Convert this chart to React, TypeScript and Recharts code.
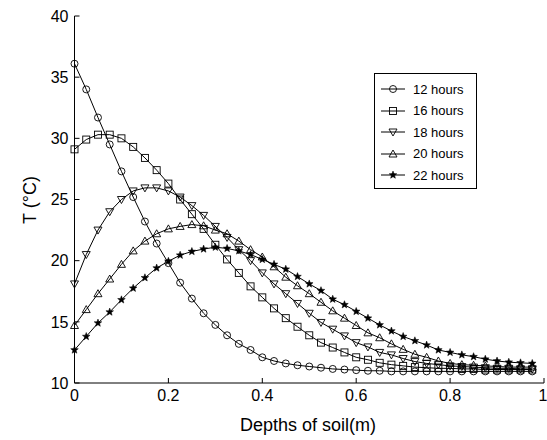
import { LineChart, Line, XAxis, YAxis } from 'recharts'

const depths = [
  0, 0.025, 0.05, 0.075, 0.1, 0.125, 0.15, 0.175, 0.2, 0.225,
  0.25, 0.275, 0.3, 0.325, 0.35, 0.375, 0.4, 0.425, 0.45, 0.475,
  0.5, 0.525, 0.55, 0.575, 0.6, 0.625, 0.65, 0.675, 0.7, 0.725,
  0.75, 0.775, 0.8, 0.825, 0.85, 0.875, 0.9, 0.925, 0.95, 0.975,
]

const h12 = [
  36.1, 34.0, 31.7, 29.5, 27.3, 25.2, 23.2, 21.4, 19.8, 18.2,
  16.9, 15.7, 14.75, 13.9, 13.2, 12.7, 12.1, 11.8, 11.6, 11.45,
  11.35, 11.25, 11.15, 11.1, 11.05, 11.0, 11.0, 10.95, 10.95, 10.95,
  10.95, 10.95, 10.95, 10.95, 10.95, 10.95, 10.95, 10.95, 10.95, 10.95,
]
const h16 = [
  29.1, 29.9, 30.3, 30.3, 30.0, 29.3, 28.4, 27.4, 26.3, 25.0,
  23.8, 22.6, 21.3, 20.1, 19.0, 17.9, 17.0, 16.1, 15.3, 14.6,
  13.9, 13.3, 12.9, 12.5, 12.1, 11.9, 11.65, 11.5, 11.4, 11.3,
  11.25, 11.2, 11.2, 11.15, 11.15, 11.1, 11.1, 11.1, 11.1, 11.1,
]
const h18 = [
  18.1, 20.5, 22.5, 24.0, 25.0, 25.7, 25.95, 25.95, 25.7, 25.2,
  24.5, 23.7, 22.8, 21.9, 20.9, 20.0, 19.0, 18.1, 17.3, 16.5,
  15.7, 14.95, 14.4, 13.85, 13.3, 12.95, 12.5, 12.3, 12.0, 11.75,
  11.6, 11.5, 11.4, 11.35, 11.3, 11.25, 11.2, 11.2, 11.15, 11.15,
]
const h20 = [
  14.7, 16.0, 17.3, 18.5, 19.7, 20.8, 21.6, 22.2, 22.6, 22.8,
  22.95, 22.85, 22.5, 22.2, 21.6, 20.9, 20.3, 19.5, 18.65, 17.95,
  17.3, 16.6, 15.9, 15.3, 14.7, 14.1, 13.7, 13.2, 12.75, 12.35,
  12.1, 11.8, 11.6, 11.5, 11.45, 11.4, 11.35, 11.3, 11.3, 11.3,
]
const h22 = [
  12.7, 13.8, 14.9, 15.8, 16.8, 17.75, 18.6, 19.4, 19.95, 20.45,
  20.75, 20.95, 21.1, 21.0, 20.8, 20.5, 20.1, 19.7, 19.3, 18.7,
  18.1, 17.55, 16.85, 16.4, 15.85, 15.3, 14.75, 14.25, 13.8, 13.45,
  13.1, 12.7, 12.5, 12.3, 12.15, 11.95, 11.8, 11.7, 11.65, 11.6,
]

const xTicks = [0, 0.2, 0.4, 0.6, 0.8, 1]
const yTicks = [10, 15, 20, 25, 30, 35, 40]

const seriesList = [
  { key: 'h12', name: '12 hours', marker: 'circle' },
  { key: 'h16', name: '16 hours', marker: 'square' },
  { key: 'h18', name: '18 hours', marker: 'down' },
  { key: 'h20', name: '20 hours', marker: 'up' },
  { key: 'h22', name: '22 hours', marker: 'star' },
]

const data = depths.map((d, i) => ({
  depth: d, h12: h12[i], h16: h16[i], h18: h18[i], h20: h20[i], h22: h22[i],
}))

const FONT = '"Liberation Sans", Arial, Helvetica, sans-serif'

function starPoints(cx: number, cy: number, ro: number, ri: number) {
  const pts: string[] = []
  for (let k = 0; k < 10; k++) {
    const r = k % 2 === 0 ? ro : ri
    const a = -Math.PI / 2 + (k * Math.PI) / 5
    pts.push(`${cx + r * Math.cos(a)},${cy + r * Math.sin(a)}`)
  }
  return pts.join(' ')
}

function Marker({ type, cx, cy }: { type: string; cx: number; cy: number }) {
  const common = { stroke: '#000', strokeWidth: 0.9, fill: 'none' }
  if (type === 'circle') return <circle cx={cx} cy={cy} r={3.5} {...common} />
  if (type === 'square') return <rect x={cx - 3.5} y={cy - 3.5} width={7} height={7} {...common} />
  if (type === 'down')
    return <polygon points={`${cx - 4},${cy - 3} ${cx + 4},${cy - 3} ${cx},${cy + 4}`} {...common} />
  if (type === 'up')
    return <polygon points={`${cx - 4},${cy + 3} ${cx + 4},${cy + 3} ${cx},${cy - 4}`} {...common} />
  return <polygon points={starPoints(cx, cy, 4, 1.7)} fill="#000" stroke="#000" strokeWidth={0.5} />
}

const tickStyle = { fontSize: 16, fill: '#000', fontFamily: FONT }

export default function App() {
  return (
    <div style={{ position: 'absolute', left: 0, top: 0, width: 547, height: 440, background: '#fff' }}>
      <LineChart width={547} height={440} data={data} margin={{ top: 16, right: 3, left: 14.5, bottom: 27 }}>
        <XAxis
          dataKey="depth"
          type="number"
          domain={[0, 1]}
          ticks={xTicks}
          tickSize={-5}
          tickMargin={12}
          height={30}
          stroke="#000"
          tick={tickStyle}
          tickFormatter={(v: number) => String(v)}
        />
        <XAxis
          xAxisId="top"
          orientation="top"
          type="number"
          domain={[0, 1]}
          ticks={xTicks}
          tickSize={-5}
          height={0}
          stroke="#000"
          tickFormatter={() => ''}
        />
        <YAxis
          type="number"
          domain={[10, 40]}
          ticks={yTicks}
          tickSize={-5}
          tickMargin={11}
          width={60}
          stroke="#000"
          tick={tickStyle}
        />
        <YAxis
          yAxisId="right"
          orientation="right"
          type="number"
          domain={[10, 40]}
          ticks={yTicks}
          tickSize={-5}
          width={0}
          stroke="#000"
          tickFormatter={() => ''}
        />
        {seriesList.map((s) => (
          <Line
            key={s.key}
            dataKey={s.key}
            type="linear"
            stroke="#000"
            strokeWidth={1}
            isAnimationActive={false}
            activeDot={false}
            dot={(p: any) => <Marker key={`${s.key}-${p.index}`} type={s.marker} cx={p.cx} cy={p.cy} />}
          />
        ))}
      </LineChart>

      {/* axis titles */}
      <div
        style={{
          position: 'absolute', left: 308, top: 425, transform: 'translate(-50%, -50%)',
          fontFamily: FONT, fontSize: 18, whiteSpace: 'nowrap',
        }}
      >
        Depths of soil(m)
      </div>
      <div
        style={{
          position: 'absolute', left: 30, top: 200, transform: 'translate(-50%, -50%) rotate(-90deg)',
          fontFamily: FONT, fontSize: 18, whiteSpace: 'nowrap',
        }}
      >
        T (°C)
      </div>

      {/* legend box */}
      <div
        style={{
          position: 'absolute', left: 374, top: 73, width: 101, height: 114,
          border: '1px solid #000', background: '#fff', fontFamily: FONT, fontSize: 13,
        }}
      >
        {seriesList.map((s, i) => (
          <div
            key={s.key}
            style={{ position: 'absolute', left: 0, top: 7 + i * 21.5, height: 16, display: 'flex', alignItems: 'center' }}
          >
            <svg width={36} height={16}>
              <line x1={6} x2={30} y1={8} y2={8} stroke="#000" strokeWidth={1} />
              <Marker type={s.marker} cx={18} cy={8} />
            </svg>
            <span style={{ marginLeft: 2 }}>{s.name}</span>
          </div>
        ))}
      </div>
    </div>
  )
}
